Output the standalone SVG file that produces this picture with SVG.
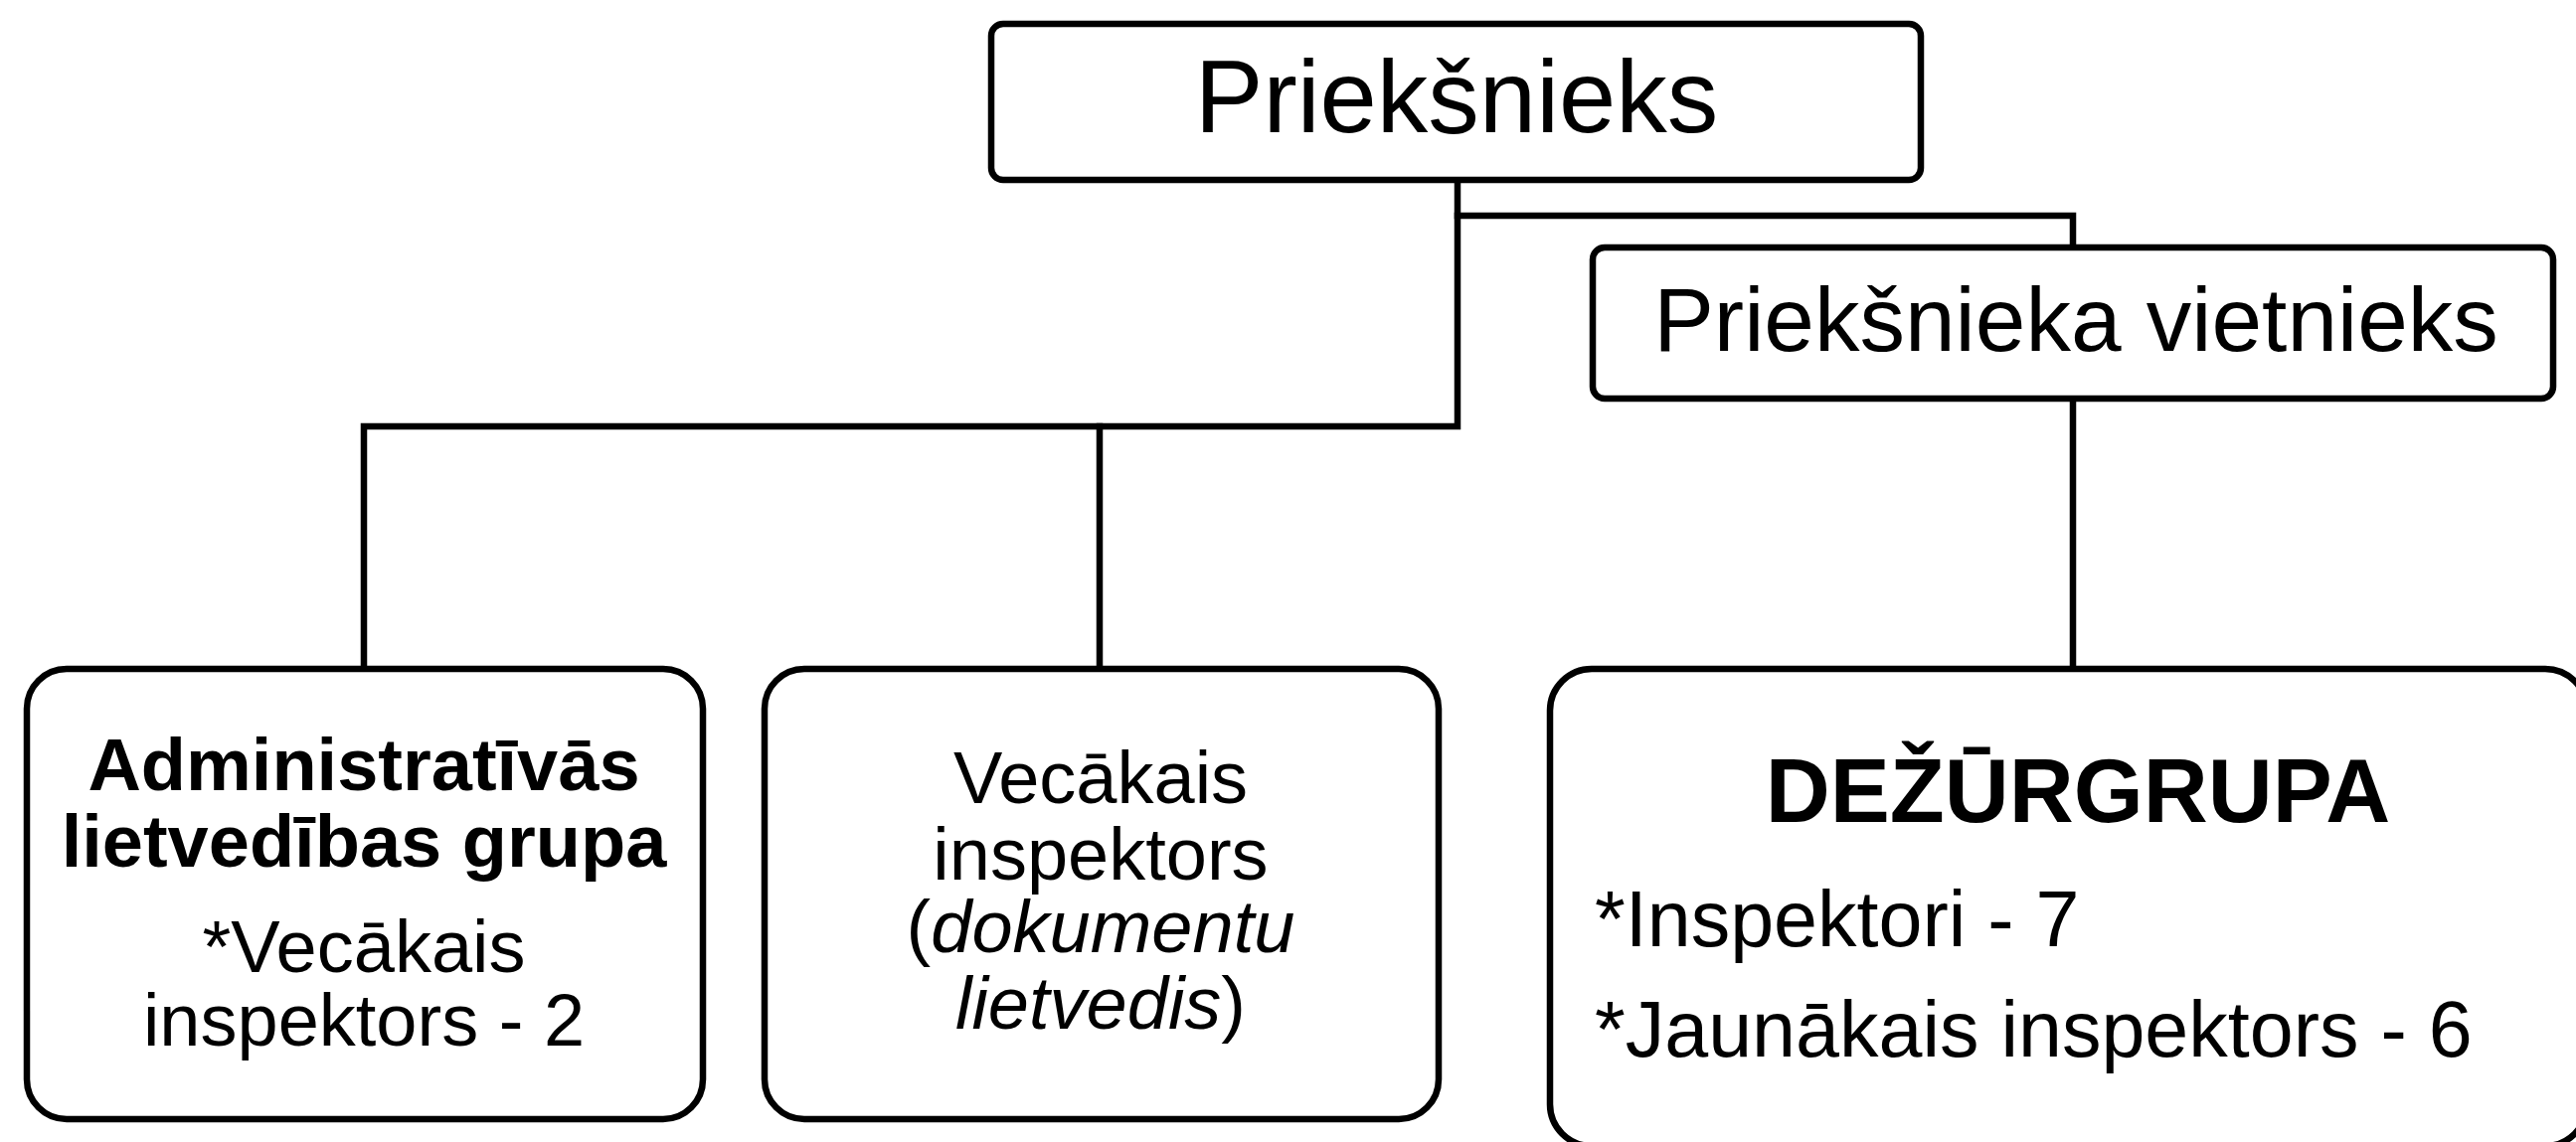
<svg xmlns="http://www.w3.org/2000/svg" width="2591" height="1149" viewBox="0 0 2591 1149">
<style>
.box{fill:#fff;stroke:#000;stroke-width:6.5}
.conn{fill:none;stroke:#000;stroke-width:6.5;stroke-linejoin:miter;stroke-linecap:square}
text{font-family:"Liberation Sans",Arial,sans-serif;fill:#000}
.c{text-anchor:middle}
.b{font-weight:bold}
</style>
<rect width="2591" height="1149" fill="#fff"/>
<g id="connectors">
<polyline class="conn" points="1466,181 1466,429 366,429 366,673"/>
<line class="conn" x1="1106" y1="429" x2="1106" y2="673"/>
<polyline class="conn" points="1466,217 2085,217 2085,249"/>
<line class="conn" x1="2085" y1="401" x2="2085" y2="673"/>
</g>
<g id="node-priekshnieks">
<rect class="box" x="997" y="24" width="935" height="157" rx="12"/>
<text class="c" x="1465" y="133" font-size="103">Priekšnieks</text>
</g>
<g id="node-vietnieks">
<rect class="box" x="1602" y="249" width="966" height="152" rx="12"/>
<text class="c" x="2088" y="353" font-size="91">Priekšnieka vietnieks</text>
</g>
<g id="node-admin">
<rect class="box" x="27" y="673" width="680" height="453" rx="40"/>
<text class="c b" x="366" y="795" font-size="74">Administratīvās</text>
<text class="c b" x="366" y="872" font-size="74">lietvedības grupa</text>
<text class="c" x="366" y="978" font-size="74">*Vecākais</text>
<text class="c" x="366" y="1052" font-size="74">inspektors - 2</text>
</g>
<g id="node-vecakais">
<rect class="box" x="769" y="673" width="678" height="453" rx="40"/>
<text class="c" x="1107" y="808" font-size="74">Vecākais</text>
<text class="c" x="1107" y="885" font-size="74">inspektors</text>
<text class="c" x="1107" y="958" font-size="74">(<tspan font-style="italic">dokumentu</tspan></text>
<text class="c" x="1107" y="1035" font-size="74"><tspan font-style="italic">lietvedis</tspan>)</text>
</g>
<g id="node-dezurgrupa">
<rect class="box" x="1559" y="673" width="1043" height="480" rx="42"/>
<text class="c b" x="2090" y="827" font-size="90">DEŽŪRGRUPA</text>
<text x="1604" y="952" font-size="79">*Inspektori - 7</text>
<text x="1604" y="1063" font-size="79">*Jaunākais inspektors - 6</text>
</g>
</svg>
